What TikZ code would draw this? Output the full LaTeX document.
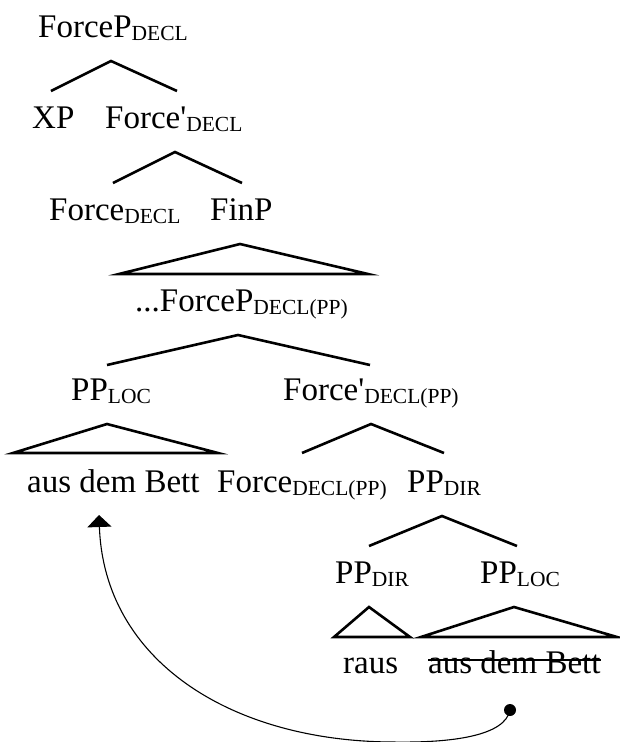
\documentclass[tikz,border=0pt]{standalone}
\usepackage{fontspec}
\setmainfont{Liberation Serif}
\newfontfamily\aposfont{Liberation Serif}
\usetikzlibrary{arrows.meta}
\newcommand\sbs[1]{\raisebox{-3.5pt}{\fontsize{21.5pt}{22pt}\selectfont #1}}
\newcommand\apo{{\aposfont\symbol{39}}}
\begin{document}
\begin{tikzpicture}[x=1pt,y=-1pt,
  lbl/.style={anchor=base west, inner sep=0pt, font=\fontsize{33pt}{36pt}\selectfont},
  br/.style={line width=2.6pt, line join=miter},
  mv/.style={line width=1.1pt}]
\useasboundingbox (0,0) rectangle (619,742);
% labels
\node[lbl] (fp)    at (38,37)   {ForceP\sbs{DECL}};
\node[lbl] (xp)    at (32,128)  {XP};
\node[lbl] (fbar)  at (105,128) {Force\apo\sbs{DECL}};
\node[lbl] (fhead) at (49,220)  {Force\sbs{DECL}};
\node[lbl] (finp)  at (210,220) {FinP};
\node[lbl] (fpp)   at (135,311) {...ForceP\sbs{DECL(PP)}};
\node[lbl] (pploc) at (71,400)  {PP\sbs{LOC}};
\node[lbl] (fbpp)  at (283,400) {Force\apo\sbs{DECL(PP)}};
\node[lbl] (aus)   at (27,492)  {aus dem Bett};
\node[lbl] (fhpp)  at (217,492) {Force\sbs{DECL(PP)}};
\node[lbl] (ppdir) at (407,492) {PP\sbs{DIR}};
\node[lbl] (ppdirb) at (335,583) {PP\sbs{DIR}};
\node[lbl] (pplocb) at (480,583) {PP\sbs{LOC}};
\node[lbl] (raus)  at (343,673) {raus};
\node[lbl] (ausb)  at (428,673) {aus dem Bett};
\draw[line width=1.4pt] ([yshift=13pt]ausb.base west) -- ([yshift=13pt]ausb.base east);
% branches
\coordinate (a1) at (111,61);  \coordinate (a1l) at (51,91);   \coordinate (a1r) at (177,91);
\draw[br] (a1l) -- (a1) -- (a1r);
\coordinate (a2) at (175,152); \coordinate (a2l) at (113,183); \coordinate (a2r) at (242,183);
\draw[br] (a2l) -- (a2) -- (a2r);
\coordinate (t1) at (240,244); \coordinate (t1l) at (119,274); \coordinate (t1r) at (368,274);
\draw[br] (t1l) -- (t1) -- (t1r) -- cycle;
\coordinate (a3) at (238,335); \coordinate (a3l) at (107,365); \coordinate (a3r) at (370,365);
\draw[br] (a3l) -- (a3) -- (a3r);
\coordinate (t2) at (107,424); \coordinate (t2l) at (13,453);  \coordinate (t2r) at (218,453);
\draw[br] (t2l) -- (t2) -- (t2r) -- cycle;
\coordinate (a4) at (371,424); \coordinate (a4l) at (302,453); \coordinate (a4r) at (444,453);
\draw[br] (a4l) -- (a4) -- (a4r);
\coordinate (a5) at (442,516); \coordinate (a5l) at (369,546); \coordinate (a5r) at (517,546);
\draw[br] (a5l) -- (a5) -- (a5r);
\coordinate (t3) at (369,607); \coordinate (t3l) at (334,637); \coordinate (t3r) at (410,637);
\draw[br] (t3l) -- (t3) -- (t3r) -- cycle;
\coordinate (t4) at (514,607); \coordinate (t4l) at (421,637); \coordinate (t4r) at (617,637);
\draw[br] (t4l) -- (t4) -- (t4r) -- cycle;
% movement
\coordinate (src) at (510,710);
\coordinate (bot) at (392,742);
\coordinate (tgt) at (99,515);
\fill (src) circle (6pt);
\draw[mv,-{Triangle[width=24pt,length=12pt]}] (src) .. controls (505,736) and (452,743) .. (bot)
  .. controls (230,741) and (104,660) .. (tgt);
\end{tikzpicture}
\end{document}
